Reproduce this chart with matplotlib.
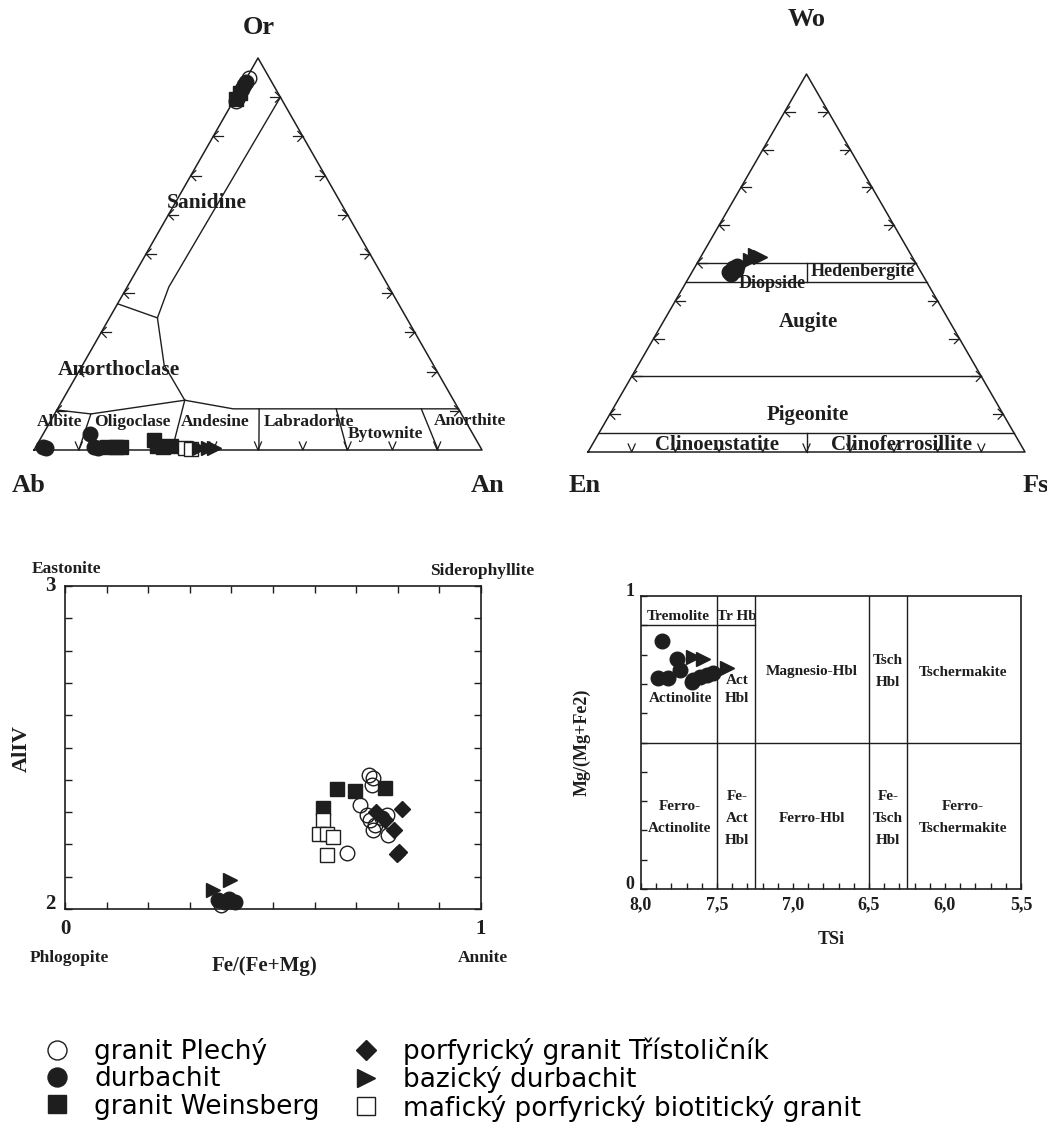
import numpy as np
import matplotlib
matplotlib.use("Agg")
import matplotlib.pyplot as plt
from matplotlib.lines import Line2D

# ---------------- data ----------------
SERIES = ["granit Plechý", "durbachit", "granit Weinsberg",
          "porfyrický granit Třístoličník", "bazický durbachit",
          "mafický porfyrický biotitický granit"]

# Feldspar: Or and An fractions (Ab = 1 - Or - An)
fsp_plechy_or = [0.95, 0.89]
fsp_plechy_an = [0.004, 0.006]
fsp_durb_or = [0.94, 0.92, 0.90, 0.93, 0.008, 0.005, 0.04, 0.008, 0.005]
fsp_durb_an = [0.003, 0.005, 0.005, 0.004, 0.017, 0.025, 0.105, 0.13, 0.14]
fsp_weins_or = [0.91, 0.895, 0.008, 0.008, 0.008, 0.025, 0.01, 0.008, 0.01]
fsp_weins_an = [0.005, 0.004, 0.16, 0.18, 0.19, 0.255, 0.27, 0.285, 0.30]
fsp_mafic_or = [0.005, 0.003]
fsp_mafic_an = [0.335, 0.35]
fsp_baz_or = [0.005, 0.005, 0.005]
fsp_baz_an = [0.365, 0.385, 0.40]

# Pyroxene: Wo and Fs fractions (En = 1 - Wo - Fs)
px_durb_wo = [0.476, 0.487, 0.492, 0.471, 0.481]
px_durb_fs = [0.085, 0.088, 0.095, 0.092, 0.098]
px_baz_wo = [0.521, 0.516, 0.508]
px_baz_fs = [0.122, 0.136, 0.117]

# Biotite: Fe/(Fe+Mg), AlIV
bt_plechy_x = [0.679, 0.731, 0.740, 0.737, 0.709, 0.725, 0.733, 0.745, 0.741, 0.773, 0.777, 0.761, 0.375]
bt_plechy_y = [2.174, 2.415, 2.405, 2.384, 2.322, 2.291, 2.276, 2.260, 2.245, 2.291, 2.229, 2.281, 2.012]
bt_durb_x = [0.385, 0.409, 0.368, 0.395]
bt_durb_y = [2.022, 2.022, 2.028, 2.030]
bt_weins_x = [0.653, 0.697, 0.769, 0.621]
bt_weins_y = [2.371, 2.366, 2.374, 2.312]
bt_trist_x = [0.748, 0.809, 0.769, 0.791, 0.797, 0.803]
bt_trist_y = [2.301, 2.309, 2.276, 2.245, 2.170, 2.175]
bt_baz_x = [0.356, 0.397]
bt_baz_y = [2.059, 2.090]
bt_mafic_x = [0.621, 0.611, 0.629, 0.644, 0.631]
bt_mafic_y = [2.276, 2.232, 2.232, 2.222, 2.167]

# Amphibole: TSi, Mg/(Mg+Fe2)
am_durb_x = [7.864, 7.765, 7.886, 7.820, 7.743, 7.656, 7.612, 7.568, 7.524, 7.666]
am_durb_y = [0.847, 0.784, 0.719, 0.719, 0.747, 0.713, 0.725, 0.730, 0.736, 0.708]
am_baz_x = [7.656, 7.590, 7.436]
am_baz_y = [0.793, 0.784, 0.753]

# Feldspar field boundaries as (Or, An) compositions
FSP_BOUNDS = [
    [(0.90, 0.10), (0.416, 0.093), (0.337, 0.107), (0.217, 0.182), (0.127, 0.273)],
    [(0.373, 0.0), (0.337, 0.107)],
    [(0.127, 0.273), (0.105, 0.392), (0.105, 0.895)],
    [(0.127, 0.273), (0.092, 0.081), (0.102, 0.0)],
    [(0.127, 0.273), (0.0, 0.308)],
    [(0.092, 0.081), (0.0, 0.10)],
    [(0.105, 0.45), (0.0, 0.502)],
    [(0.105, 0.622), (0.0, 0.699)],
    [(0.105, 0.812), (0.0, 0.902)],
]
# Pyroxene field boundaries as (Wo, Fs) compositions
PX_BOUNDS = [
    [(0.50, 0.0), (0.50, 0.50)],
    [(0.45, 0.0), (0.45, 0.55)],
    [(0.20, 0.0), (0.20, 0.80)],
    [(0.05, 0.0), (0.05, 0.95)],
    [(0.45, 0.275), (0.50, 0.25)],
    [(0.05, 0.475), (0.0, 0.50)],
]
AM_HLINES = [(8.0, 7.25, 0.9), (8.0, 5.5, 0.5)]
AM_VLINES = [7.5, 7.25, 6.5, 6.25]

# ---------------- styling ----------------
W, H = 1047, 1140
fig = plt.figure(figsize=(W / 100, H / 100), dpi=100)
SERIF = "Liberation Serif"
INK = "#1e1e1e"
SQ = np.sqrt(3) / 2

STY = {
    "granit Plechý": dict(marker="o", mfc="none", mec=INK, ms=10.5, mew=1.0),
    "durbachit": dict(marker="o", mfc=INK, mec=INK, ms=10.5),
    "granit Weinsberg": dict(marker="s", mfc=INK, mec=INK, ms=9.8),
    "porfyrický granit Třístoličník": dict(marker="D", mfc=INK, mec=INK, ms=8.2),
    "bazický durbachit": dict(marker=">", mfc=INK, mec=INK, ms=10.5),
    "mafický porfyrický biotitický granit": dict(marker="s", mfc="white", mec=INK, ms=9.8, mew=1.0),
}


def fx(px):
    return px / W


def fy(py):
    return 1 - py / H


def ftext(px, py, s, size, rot=0, **kw):
    fig.text(fx(px), fy(py), s, fontsize=size, fontfamily=SERIF, fontweight="bold",
             ha="center", va="center", rotation=rot, color=INK, **kw)


def pts(ax, x, y, name, z):
    ax.plot(x, y, ls="none", zorder=z, clip_on=False, **STY[name])


def tri_axes(xl, xr, yb, ht, m=0.12):
    sx = xr - xl
    sy = ht / SQ
    left = xl - m * sx
    right = xr + m * sx
    bpx = yb + m * sy
    tpx = yb - ht - m * sy
    ax = fig.add_axes([fx(left), fy(bpx), (right - left) / W, (bpx - tpx) / H])
    ax.set_xlim(-m, 1 + m)
    ax.set_ylim(-m, SQ + m)
    ax.axis("off")
    ax.plot([0, 1, 0.5, 0], [0, 0, SQ, 0], color=INK, lw=1.1, clip_on=False)
    lw = 0.9
    for f in np.arange(1, 10) / 10:
        # left edge: arrow pointing outward-left
        x0, y0 = f / 2, f * SQ
        ax.plot([x0, x0 + 10 / sx], [y0, y0], color=INK, lw=lw)
        ax.plot([x0 + 5 / sx, x0, x0 + 5 / sx], [y0 + 5 / sy, y0, y0 - 5 / sy], color=INK, lw=lw)
        # right edge
        x1 = 1 - f / 2
        ax.plot([x1, x1 - 10 / sx], [y0, y0], color=INK, lw=lw)
        ax.plot([x1 - 5 / sx, x1, x1 - 5 / sx], [y0 + 5 / sy, y0, y0 - 5 / sy], color=INK, lw=lw)
        # bottom edge: V
        ax.plot([f - 3.5 / sx, f, f + 3.5 / sx], [8 / sy, 0, 8 / sy], color=INK, lw=lw)
    return ax


def tern(top, right):
    top = np.asarray(top, float)
    right = np.asarray(right, float)
    return right + top / 2, top * SQ


# ---------------- Feldspar triangle ----------------
axf = tri_axes(34, 482, 450, 392)
for line in FSP_BOUNDS:
    o, a = zip(*line)
    x, y = tern(o, a)
    axf.plot(x, y, color=INK, lw=1.0)
pts(axf, *tern(fsp_weins_or, fsp_weins_an), "granit Weinsberg", 3)
pts(axf, *tern(fsp_plechy_or, fsp_plechy_an), "granit Plechý", 3)
pts(axf, *tern(fsp_durb_or, fsp_durb_an), "durbachit", 4)
pts(axf, *tern(fsp_mafic_or, fsp_mafic_an), "mafický porfyrický biotitický granit", 5)
pts(axf, *tern(fsp_baz_or, fsp_baz_an), "bazický durbachit", 6)

ftext(259, 28, "Or", 19)
ftext(29, 486, "Ab", 19)
ftext(488, 486, "An", 19)
ftext(207, 203, "Sanidine", 15.5)
ftext(119, 370, "Anorthoclase", 15.5)
ftext(60, 422, "Albite", 12.5)
ftext(132, 422, "Oligoclase", 12.5)
ftext(215, 422, "Andesine", 12.5)
ftext(309, 422, "Labradorite", 12.5)
ftext(385, 434, "Bytownite", 12.5)
ftext(470, 421, "Anorthite", 12.5)

# ---------------- Pyroxene triangle ----------------
axp = tri_axes(588, 1025, 452, 378)
for line in PX_BOUNDS:
    w, f = zip(*line)
    x, y = tern(w, f)
    axp.plot(x, y, color=INK, lw=1.0)
pts(axp, *tern(px_durb_wo, px_durb_fs), "durbachit", 4)
pts(axp, *tern(px_baz_wo, px_baz_fs), "bazický durbachit", 5)

ftext(807, 20, "Wo", 19)
ftext(585, 486, "En", 19)
ftext(1036, 486, "Fs", 19)
ftext(772, 284, "Diopside", 13)
ftext(863, 272, "Hedenbergite", 13)
ftext(808, 322, "Augite", 15)
ftext(808, 415, "Pigeonite", 15)
ftext(717, 445, "Clinoenstatite", 15)
ftext(902, 445, "Clinoferrosillite", 15)

# ---------------- Biotite ----------------
axb = fig.add_axes([fx(65), fy(909), 416 / W, 323 / H])
axb.set_xlim(0, 1)
axb.set_ylim(2, 3)
pts(axb, bt_weins_x, bt_weins_y, "granit Weinsberg", 3)
pts(axb, bt_mafic_x, bt_mafic_y, "mafický porfyrický biotitický granit", 4)
pts(axb, bt_plechy_x, bt_plechy_y, "granit Plechý", 5)
pts(axb, bt_trist_x, bt_trist_y, "porfyrický granit Třístoličník", 6)
pts(axb, bt_durb_x, bt_durb_y, "durbachit", 6)
pts(axb, bt_baz_x, bt_baz_y, "bazický durbachit", 7)
bx = np.round(np.arange(0, 1.01, 0.1), 2)
by = np.round(np.arange(2, 3.01, 0.1), 2)
axb.set_xticks(bx)
axb.set_xticklabels(["0"] + [""] * 9 + ["1"])
axb.set_yticks(by)
axb.set_yticklabels(["2"] + [""] * 9 + ["3"])
axb.tick_params(direction="in", length=5, width=1, top=True, right=True, colors=INK,
                labelsize=15, pad=7)
for lab in axb.get_xticklabels() + axb.get_yticklabels():
    lab.set_fontfamily(SERIF)
    lab.set_fontweight("bold")
ylabs = axb.get_yticklabels()
ylabs[0].set_va("baseline")
ylabs[-1].set_va("center")
for s in axb.spines.values():
    s.set_linewidth(1.2)
    s.set_color(INK)
ftext(67, 569, "Eastonite", 12.5)
ftext(482, 571, "Siderophyllite", 12.5)
ftext(69, 958, "Phlogopite", 12.5)
ftext(483, 958, "Annite", 12.5)
ftext(265, 966, "Fe/(Fe+Mg)", 15)
ftext(22, 748, "AlIV", 16, rot=90)

# ---------------- Amphibole ----------------
axa = fig.add_axes([fx(641), fy(889), 380 / W, 293 / H])
axa.set_xlim(8.0, 5.5)
axa.set_ylim(0, 1)
for x0, x1, yv in AM_HLINES:
    axa.plot([x0, x1], [yv, yv], color=INK, lw=1.0)
for xv in AM_VLINES:
    axa.axvline(xv, color=INK, lw=1.0)
pts(axa, am_durb_x, am_durb_y, "durbachit", 4)
pts(axa, am_baz_x, am_baz_y, "bazický durbachit", 5)
ax_t = np.round(np.arange(5.5, 8.01, 0.1), 2)
axa.set_xticks(ax_t)
axa.set_xticklabels([("%.1f" % v).replace(".", ",") if abs(v * 2 - round(v * 2)) < 1e-6 else ""
                     for v in ax_t])
axa.set_yticks(np.round(np.arange(0, 1.01, 0.1), 2))
axa.set_yticklabels(["0"] + [""] * 9 + ["1"], va="baseline")
axa.tick_params(direction="in", length=4, width=1, colors=INK, labelsize=13, pad=5)
for lab in axa.get_xticklabels() + axa.get_yticklabels():
    lab.set_fontfamily(SERIF)
    lab.set_fontweight("bold")
for s in axa.spines.values():
    s.set_linewidth(1.2)
    s.set_color(INK)
fs_a = 11
ftext(678, 617, "Tremolite", fs_a)
ftext(737, 617, "Tr Hb", fs_a)
ftext(681, 698, "Actinolite", fs_a)
ftext(737, 689, "Act\nHbl", fs_a, linespacing=1.5)
ftext(812, 672, "Magnesio-Hbl", fs_a)
ftext(888, 672, "Tsch\nHbl", fs_a, linespacing=1.9)
ftext(963, 672, "Tschermakite", fs_a)
ftext(680, 818, "Ferro-\nActinolite", fs_a, linespacing=1.9)
ftext(737, 818, "Fe-\nAct\nHbl", fs_a, linespacing=1.9)
ftext(812, 818, "Ferro-Hbl", fs_a)
ftext(888, 818, "Fe-\nTsch\nHbl", fs_a, linespacing=1.9)
ftext(963, 818, "Ferro-\nTschermakite", fs_a, linespacing=1.9)
ftext(831, 940, "TSi", 13)
ftext(582, 742, "Mg/(Mg+Fe2)", 13, rot=90)

# ---------------- Legend ----------------
handles = [Line2D([], [], ls="none", **{**STY[n], "ms": STY[n]["ms"] * 1.3}) for n in SERIES]
fig.legend(handles, SERIES, loc="upper left", bbox_to_anchor=(fx(44), fy(1037)),
           ncol=2, frameon=False, handlelength=1.0, handletextpad=0.9,
           columnspacing=1.27, labelspacing=0.05, borderpad=0, borderaxespad=0,
           prop={"family": "DejaVu Sans", "size": 19})

fig.savefig("out.png", dpi=100)
